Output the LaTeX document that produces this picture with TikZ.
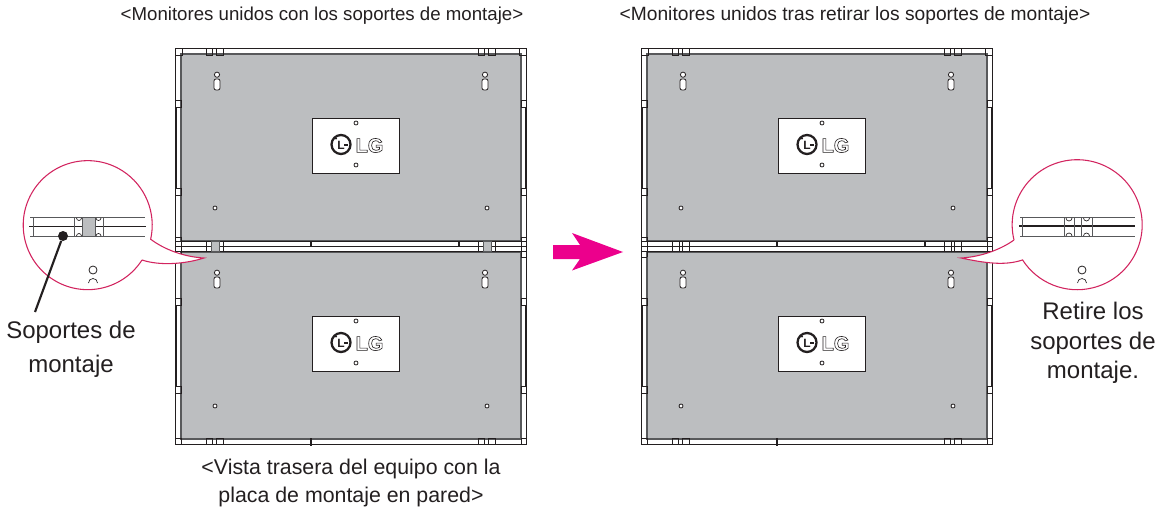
\documentclass[tikz,border=0pt]{standalone}
\usepackage{fontspec}
\setmainfont{Liberation Sans}
\usetikzlibrary{positioning}

\definecolor{panelgray}{HTML}{BCBEC0}
\definecolor{linedark}{HTML}{231F20}
\definecolor{linegray}{HTML}{58595B}
\definecolor{ringred}{HTML}{D2245F}
\definecolor{arrowpink}{HTML}{EC008C}

\newcommand{\outlined}[1]{\special{pdf:code q 1 Tr 0.45 w}#1\special{pdf:code Q}}

\tikzset{
    caption/.style = {font=\fontsize{14}{21}\selectfont, text=linedark, align=center, inner sep=0pt},
    lowcaption/.style = {font=\fontsize{16}{21}\selectfont, text=linedark, align=center, inner sep=0pt},
    bigcaption/.style = {font=\fontsize{18}{22}\selectfont, text=linedark, align=center, inner sep=0pt},
    hole/.style = {draw=linedark, fill=white, line width=.6pt},
    frame/.style = {draw=linedark, line width=.7pt},
    callout/.style = {draw=ringred, fill=white, line width=.8pt},
    pics/panel/.style = {code = {
        \fill[panelgray] (181,54) rectangle (521,241);
        \draw[draw=linegray, line width=.8pt] (181,54) rectangle (521,241);
        % side strips
        \draw[linedark, line width=1.1pt] (176,107) -- (176,188) (525.7,107) -- (525.7,188);
        \draw[frame] (175,100.5) rectangle (181,107) (175,188) rectangle (181,195);
        \draw[frame] (521,100.5) rectangle (526,107) (521,188) rectangle (526,195);
        % keyholes
        \foreach \kx in {217,485} {
            \draw[hole] (\kx,74.7) circle [radius=2.6];
            \draw[hole, rounded corners=1.5pt] (\kx-3,79) rectangle (\kx+3,90);
        }
        \foreach \hx in {215,487}
            \draw[hole] (\hx,208) circle [radius=2];
        % logo plate
        \fill[white, draw=linedark, line width=.7pt] (312,118) rectangle (399,173);
        \draw[hole] (356,123) circle [radius=2] (356,165) circle [radius=2];
        \draw[linedark, line width=1.7pt] (341,144.5) circle [radius=9.5];
        \fill[linedark] (336,138.5) circle [radius=1.2];
        \node[text=linedark, font=\bfseries\fontsize{9}{9}\selectfont, inner sep=0pt] (ringl) at (341,145) {L};
        \draw[linedark, line width=.8pt] (344,145) -- (348,145);
        \node[text=linedark, font=\bfseries\fontsize{15}{15}\selectfont, inner sep=0pt] (lg) at (369.5,145.5) {\outlined{LG}};
    }},
    pics/wall/.style = {code = {
        \draw[frame] (175,48) rectangle (526,444);
        \foreach \dy in {0,198}
            \pic at (0,\dy) {panel};
        \draw[frame] (175,241.5) -- (526,241.5) (175,246.8) -- (526,246.8) (175,251.8) -- (526,251.8);
        \draw[frame] (175,48) rectangle (182,55) (519,48) rectangle (526,55);
        \draw[frame] (175,438) rectangle (181,444) (521,438) rectangle (526,444);
        \draw[frame] (175,237) -- (181,237) (181,237) -- (181,257) (521,237) -- (521,257) (521,237) -- (526,237) (175,257) -- (181,257) (521,257) -- (526,257);
        % brackets
        \foreach \nx in {206,478} {
            \draw[frame] (\nx,48) rectangle (\nx+6,55) (\nx+10,48) rectangle (\nx+17,55);
            \draw[frame] (\nx,438) rectangle (\nx+6,444) (\nx+10,438) rectangle (\nx+17,444);
            \draw[frame] (\nx,241.5) -- (\nx,251.8) (\nx+7,241.5) -- (\nx+7,251.8) (\nx+10,241.5) -- (\nx+10,251.8) (\nx+17,241.5) -- (\nx+17,251.8);
        }
        \draw[linedark, line width=1.2pt] (310.7,241.5) -- (310.7,246.8) (459,241.5) -- (459,246.8);
        \draw[linedark, line width=1.2pt] (310.7,438) -- (310.7,446);
    }}
}

\begin{document}
\begin{tikzpicture}[x=.75pt, y=-.75pt]
    \useasboundingbox (0,0) rectangle (1167,510);

    \node[caption] (titleleft) at (322,16) {<Monitores unidos con los soportes de montaje>};
    \node[caption, font=\fontsize{14.4}{21}\selectfont] (titleright) at (855,16) {<Monitores unidos tras retirar los soportes de montaje>};
    \node[lowcaption] (backview) at (351,482.5) {<Vista trasera del equipo con la\\placa de montaje en pared>};

    \pic at (0,0) {wall};
    \pic at (466,0) {wall};

    % gray mounting brackets of the left pair
    \fill[panelgray, draw=linegray, line width=.5pt] (211,241.5) rectangle (219,251.8);
    \fill[panelgray, draw=linegray, line width=.5pt] (483,241.5) rectangle (491,251.8);

    % arrow
    \fill[arrowpink] (553,245) -- (580,245) -- (572,233) -- (623,252) -- (572,270.5) -- (580,259) -- (553,259) -- cycle;

    % left callout
    \draw[callout] (142,260) arc [start angle=32.7, end angle=372.6, radius=64.5]
        .. controls (165,250) and (185,257) .. (204,258)
        .. controls (185,264) and (160,266) .. (142,260);
    \draw[linegray, line width=.9pt] (30,217.7) -- (145,217.7) (30,236.5) -- (145,236.5);
    \draw[linedark, line width=.9pt] (29,226.5) -- (146,226.5);
    \draw[linegray, line width=.7pt] (33,217.7) -- (33,236.5) (74.5,217.7) -- (74.5,236.5) (103,217.7) -- (103,236.5);
    \fill[panelgray, draw=linegray, line width=.5pt] (82,217.7) rectangle (95,236.5);
    \foreach \cx in {79,98.5} {
        \draw[linedark, line width=.5pt] (\cx-2.5,218) arc [start angle=180, end angle=0, radius=2.5];
        \draw[linedark, line width=.5pt] (\cx-2.5,236) arc [start angle=180, end angle=360, radius=2.5];
    }
    \draw[hole] (93,270) circle [radius=4];
    \draw[linedark, line width=.5pt] (88.5,283) arc [start angle=180, end angle=360, radius=4.5];

    \node[circle, fill=linedark, inner sep=0pt, minimum size=7.5pt] (dot) at (63,236) {};
    \coordinate (leaderend) at (35,312);
    \draw[linedark, line width=1.6pt] (dot) -- (leaderend);
    \node[bigcaption, font=\fontsize{18}{25.5}\selectfont] (mountlabel) at (71,349) {Soportes de\\montaje};

    % right callout
    \draw[callout] (1014,240) arc [start angle=166.4, end angle=507.2, radius=65]
        .. controls (1005,266) and (985,263) .. (961,258)
        .. controls (980,257) and (1000,250) .. (1014,240);
    \draw[linegray, line width=.9pt] (1020,217.7) -- (1135,217.7) (1020,236.5) -- (1135,236.5);
    \draw[linedark, line width=.9pt] (1019,226) -- (1135,226);
    \draw[linegray, line width=.7pt] (1022,217.7) -- (1022,236.5);
    \foreach \bx in {1064,1074,1081,1092}
        \draw[linegray, line width=.7pt] (\bx,217.7) -- (\bx,236.5);
    \foreach \cx in {1069,1086.5} {
        \draw[linedark, line width=.5pt] (\cx-3,218) arc [start angle=180, end angle=0, radius=3];
        \draw[linedark, line width=.5pt] (\cx-3,236) arc [start angle=180, end angle=360, radius=3];
    }
    \draw[hole] (1082,270) circle [radius=4];
    \draw[linedark, line width=.5pt] (1077.5,283) arc [start angle=180, end angle=360, radius=4.5];

    \node[bigcaption] (removelabel) at (1093,343) {Retire los\\soportes de\\montaje.};
\end{tikzpicture}
\end{document}
